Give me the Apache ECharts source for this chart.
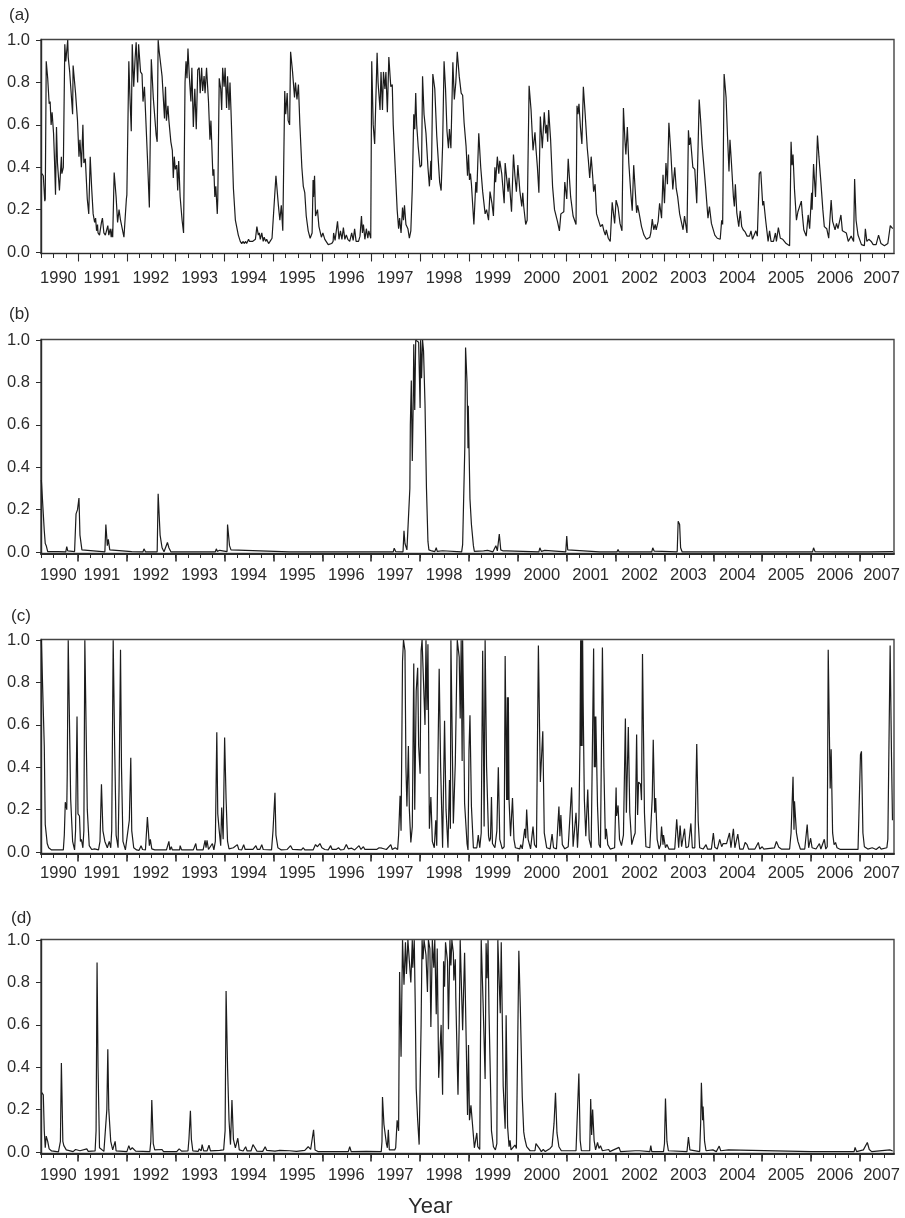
<!DOCTYPE html>
<html>
<head>
<meta charset="utf-8">
<title>Four panels 1990-2007</title>
<script src="https://cdn.jsdelivr.net/npm/echarts@6/dist/echarts.min.js"></script>
<style>
  html, body { margin: 0; padding: 0; background: #fff; }
  #main { width: 905px; height: 1218px; }
</style>
</head>
<body>
<div id="main"></div>
<script>
// each list holds [year, value] at the turning points of the trace
var yearLabels = [1990,1991,1992,1993,1994,1995,1996,1997,1998,1999,2000,2001,2002,2003,2004,2005,2006,2007];
var yearTicks = [1991,1992,1993,1994,1995,1996,1997,1998,1999,2000,2001,2002,2003,2004,2005,2006,2007];
var valueTicks = [0,0.2,0.4,0.6,0.8,1.0];

var panelA = [[1990.26,.37],[1990.29,.36],[1990.32,.24],[1990.33,.25],[1990.35,.90],[1990.38,.82],[1990.41,.70],[1990.43,.71],[1990.45,.60],[1990.47,.66],[1990.50,.56],[1990.52,.43],[1990.54,.27],[1990.56,.59],[1990.58,.42],[1990.62,.29],[1990.66,.45],[1990.67,.37],[1990.70,.40],[1990.73,.98],[1990.75,.90],[1990.79,1.0],[1990.80,.92],[1990.83,.85],[1990.86,.85],[1990.89,.65],[1990.90,.88],[1990.95,.75],[1990.99,.62],[1991.02,.45],[1991.04,.53],[1991.07,.40],[1991.10,.60],[1991.12,.42],[1991.15,.44],[1991.19,.25],[1991.22,.18],[1991.25,.45],[1991.28,.30],[1991.31,.18],[1991.34,.14],[1991.36,.16],[1991.38,.10],[1991.40,.13],[1991.41,.09],[1991.44,.08],[1991.48,.14],[1991.50,.16],[1991.53,.09],[1991.56,.08],[1991.61,.125],[1991.63,.08],[1991.66,.11],[1991.68,.07],[1991.70,.11],[1991.71,.07],[1991.74,.375],[1991.78,.26],[1991.81,.14],[1991.84,.20],[1991.87,.15],[1991.91,.15],[1991.94,.07],[1991.95,.065],[1991.99,.25],[1992.0,.27],[1992.04,.90],[1992.06,.75],[1992.09,.57],[1992.11,.98],[1992.14,.78],[1992.17,.92],[1992.19,.99],[1992.22,.80],[1992.24,.98],[1992.28,.85],[1992.31,.84],[1992.33,.71],[1992.36,.78],[1992.37,.78],[1992.42,.45],[1992.46,.21],[1992.50,.91],[1992.54,.73],[1992.60,.55],[1992.62,.52],[1992.64,1.0],[1992.66,.95],[1992.72,.83],[1992.75,.83],[1992.77,.63],[1992.79,.78],[1992.81,.62],[1992.84,.69],[1992.86,.62],[1992.90,.52],[1992.93,.48],[1992.95,.35],[1992.97,.45],[1992.99,.39],[1993.02,.41],[1993.04,.29],[1993.06,.43],[1993.09,.26],[1993.13,.15],[1993.16,.09],[1993.19,.80],[1993.21,.90],[1993.23,.82],[1993.25,.96],[1993.28,.82],[1993.31,.71],[1993.33,.87],[1993.36,.59],[1993.39,.77],[1993.42,.58],[1993.45,.86],[1993.48,.87],[1993.50,.75],[1993.53,.87],[1993.55,.76],[1993.58,.83],[1993.60,.75],[1993.63,.87],[1993.67,.71],[1993.70,.53],[1993.72,.62],[1993.76,.36],[1993.78,.39],[1993.80,.26],[1993.82,.31],[1993.85,.18],[1993.86,.25],[1993.89,.82],[1993.92,.77],[1993.94,.67],[1993.96,.87],[1993.99,.78],[1994.01,.87],[1994.04,.68],[1994.06,.83],[1994.09,.67],[1994.11,.80],[1994.13,.67],[1994.18,.30],[1994.22,.15],[1994.24,.15],[1994.28,.08],[1994.32,.05],[1994.35,.04],[1994.38,.05],[1994.40,.04],[1994.43,.05],[1994.45,.04],[1994.47,.05],[1994.49,.06],[1994.51,.05],[1994.54,.045],[1994.57,.05],[1994.60,.055],[1994.63,.06],[1994.66,.12],[1994.69,.08],[1994.71,.09],[1994.73,.06],[1994.76,.09],[1994.79,.05],[1994.81,.07],[1994.84,.05],[1994.86,.06],[1994.90,.04],[1994.93,.05],[1994.97,.065],[1994.99,.07],[1995.05,.36],[1995.10,.22],[1995.13,.15],[1995.16,.22],[1995.19,.10],[1995.23,.76],[1995.25,.65],[1995.28,.75],[1995.30,.62],[1995.33,.60],[1995.35,.945],[1995.39,.85],[1995.43,.73],[1995.45,.80],[1995.48,.72],[1995.51,.79],[1995.54,.60],[1995.58,.40],[1995.61,.31],[1995.64,.28],[1995.67,.17],[1995.71,.10],[1995.75,.065],[1995.79,.09],[1995.81,.34],[1995.82,.26],[1995.84,.36],[1995.86,.17],[1995.90,.20],[1995.93,.12],[1995.98,.07],[1996.01,.09],[1996.05,.06],[1996.12,.035],[1996.19,.04],[1996.22,.05],[1996.23,.09],[1996.26,.055],[1996.31,.145],[1996.34,.06],[1996.37,.10],[1996.40,.06],[1996.43,.115],[1996.46,.06],[1996.49,.08],[1996.52,.06],[1996.56,.05],[1996.60,.09],[1996.63,.055],[1996.66,.11],[1996.69,.05],[1996.74,.05],[1996.77,.075],[1996.80,.17],[1996.82,.09],[1996.84,.13],[1996.87,.06],[1996.90,.11],[1996.93,.065],[1996.95,.10],[1996.99,.065],[1997.01,.90],[1997.04,.60],[1997.07,.51],[1997.12,.94],[1997.14,.80],[1997.18,.67],[1997.20,.85],[1997.23,.67],[1997.25,.85],[1997.28,.77],[1997.30,.85],[1997.33,.66],[1997.36,.92],[1997.40,.78],[1997.43,.79],[1997.45,.60],[1997.49,.40],[1997.53,.20],[1997.56,.11],[1997.58,.16],[1997.61,.09],[1997.64,.21],[1997.66,.15],[1997.68,.22],[1997.71,.13],[1997.75,.11],[1997.78,.065],[1997.81,.10],[1997.84,.30],[1997.87,.65],[1997.89,.58],[1997.91,.75],[1997.93,.60],[1997.96,.50],[1998.0,.40],[1998.03,.41],[1998.05,.83],[1998.08,.65],[1998.12,.56],[1998.14,.56],[1998.16,.40],[1998.19,.31],[1998.22,.43],[1998.23,.34],[1998.26,.84],[1998.30,.77],[1998.34,.55],[1998.40,.33],[1998.43,.29],[1998.46,.50],[1998.49,.90],[1998.52,.77],[1998.55,.57],[1998.58,.49],[1998.60,.58],[1998.63,.49],[1998.67,.895],[1998.70,.72],[1998.73,.80],[1998.76,.945],[1998.80,.83],[1998.84,.75],[1998.87,.74],[1998.90,.61],[1998.94,.50],[1998.97,.36],[1998.99,.46],[1999.01,.34],[1999.03,.37],[1999.05,.32],[1999.10,.13],[1999.14,.33],[1999.16,.28],[1999.20,.56],[1999.24,.40],[1999.28,.285],[1999.33,.18],[1999.36,.20],[1999.40,.15],[1999.43,.285],[1999.47,.23],[1999.50,.17],[1999.53,.40],[1999.545,.33],[1999.58,.45],[1999.61,.37],[1999.63,.43],[1999.67,.37],[1999.72,.23],[1999.74,.42],[1999.77,.35],[1999.80,.285],[1999.82,.35],[1999.87,.19],[1999.91,.46],[1999.94,.36],[1999.97,.285],[2000.0,.41],[2000.04,.29],[2000.08,.215],[2000.10,.28],[2000.12,.215],[2000.16,.13],[2000.19,.15],[2000.23,.785],[2000.27,.67],[2000.31,.48],[2000.35,.565],[2000.37,.49],[2000.40,.40],[2000.43,.28],[2000.46,.64],[2000.50,.49],[2000.54,.66],[2000.57,.56],[2000.59,.60],[2000.61,.52],[2000.63,.67],[2000.67,.53],[2000.71,.31],[2000.75,.20],[2000.81,.145],[2000.85,.10],[2000.88,.18],[2000.94,.19],[2000.96,.33],[2001.0,.25],[2001.03,.44],[2001.08,.26],[2001.13,.17],[2001.19,.13],[2001.21,.69],[2001.23,.65],[2001.25,.70],[2001.28,.59],[2001.31,.51],[2001.34,.78],[2001.38,.64],[2001.42,.49],[2001.44,.44],[2001.47,.35],[2001.50,.45],[2001.53,.36],[2001.55,.285],[2001.58,.32],[2001.61,.18],[2001.65,.18],[2001.69,.12],[2001.73,.13],[2001.76,.10],[2001.79,.08],[2001.81,.105],[2001.85,.065],[2001.89,.05],[2001.93,.235],[2001.98,.135],[2002.01,.245],[2002.05,.21],[2002.09,.135],[2002.13,.10],[2002.16,.68],[2002.19,.53],[2002.21,.46],[2002.24,.59],[2002.27,.42],[2002.31,.28],[2002.34,.195],[2002.37,.41],[2002.40,.295],[2002.43,.185],[2002.45,.22],[2002.48,.185],[2002.53,.12],[2002.58,.08],[2002.63,.06],[2002.70,.07],[2002.72,.09],[2002.75,.155],[2002.78,.105],[2002.81,.13],[2002.83,.105],[2002.87,.145],[2002.90,.23],[2002.94,.16],[2002.97,.365],[2003.0,.23],[2003.03,.42],[2003.06,.32],[2003.09,.61],[2003.13,.47],[2003.17,.295],[2003.21,.40],[2003.24,.30],[2003.27,.26],[2003.31,.18],[2003.34,.18],[2003.38,.105],[2003.41,.17],[2003.46,.09],[2003.49,.575],[2003.51,.505],[2003.53,.54],[2003.56,.535],[2003.58,.40],[2003.62,.39],[2003.66,.23],[2003.68,.23],[2003.71,.72],[2003.74,.62],[2003.77,.505],[2003.80,.50],[2003.84,.31],[2003.89,.16],[2003.92,.215],[2003.96,.135],[2004.03,.08],[2004.08,.065],[2004.14,.06],[2004.17,.15],[2004.19,.13],[2004.22,.84],[2004.26,.73],[2004.29,.545],[2004.32,.38],[2004.34,.53],[2004.37,.42],[2004.41,.26],[2004.43,.215],[2004.45,.32],[2004.48,.185],[2004.52,.12],[2004.55,.195],[2004.58,.12],[2004.61,.105],[2004.65,.095],[2004.69,.075],[2004.74,.075],[2004.77,.10],[2004.80,.06],[2004.84,.06],[2004.87,.10],[2004.90,.075],[2004.94,.37],[2004.97,.38],[2005.01,.22],[2005.03,.24],[2005.07,.15],[2005.12,.05],[2005.15,.10],[2005.18,.05],[2005.23,.05],[2005.27,.09],[2005.29,.05],[2005.33,.115],[2005.37,.065],[2005.42,.06],[2005.49,.04],[2005.56,.03],[2005.59,.52],[2005.61,.41],[2005.63,.46],[2005.66,.295],[2005.70,.15],[2005.73,.19],[2005.77,.195],[2005.80,.24],[2005.82,.18],[2005.85,.105],[2005.90,.075],[2005.94,.175],[2005.97,.11],[2006.01,.28],[2006.02,.20],[2006.05,.415],[2006.09,.26],[2006.13,.55],[2006.16,.45],[2006.20,.33],[2006.24,.20],[2006.27,.12],[2006.32,.11],[2006.36,.065],[2006.41,.245],[2006.44,.145],[2006.49,.105],[2006.52,.135],[2006.55,.11],[2006.58,.11],[2006.61,.175],[2006.64,.10],[2006.68,.105],[2006.72,.09],[2006.76,.05],[2006.82,.075],[2006.87,.05],[2006.89,.345],[2006.92,.15],[2006.96,.08],[2007.03,.035],[2007.09,.03],[2007.11,.11],[2007.14,.05],[2007.18,.06],[2007.23,.05],[2007.27,.035],[2007.33,.035],[2007.38,.08],[2007.43,.04],[2007.50,.03],[2007.57,.04],[2007.62,.125],[2007.67,.11]];

var panelB = [[1990.25,.34],[1990.27,.34],[1990.31,.10],[1990.33,.04],[1990.35,.03],[1990.38,.002],[1990.60,.002],[1990.62,.006],[1990.64,.001],[1990.75,.001],[1990.77,.025],[1990.79,.005],[1990.93,.002],[1990.96,.18],[1990.99,.20],[1991.02,.255],[1991.04,.08],[1991.08,.01],[1991.12,.001],[1991.55,.001],[1991.57,.13],[1991.60,.03],[1991.62,.06],[1991.65,.01],[1991.68,.001],[1992.10,.002],[1992.12,.005],[1992.14,.001],[1992.33,.001],[1992.35,.015],[1992.38,.001],[1992.62,.001],[1992.64,.275],[1992.68,.08],[1992.72,.02],[1992.76,.001],[1992.80,.01],[1992.83,.045],[1992.86,.02],[1992.90,.001],[1993.19,.001],[1993.21,.005],[1993.23,.001],[1993.61,.001],[1993.63,.003],[1993.81,.001],[1993.83,.015],[1993.85,.003],[1993.90,.008],[1993.92,.001],[1994.05,.002],[1994.06,.13],[1994.10,.03],[1994.13,.01],[1994.17,.001],[1995.32,.001],[1995.34,.008],[1995.36,.001],[1996.62,.001],[1996.64,.004],[1996.66,.001],[1997.24,.001],[1997.26,.005],[1997.28,.001],[1997.45,.001],[1997.47,.018],[1997.50,.002],[1997.65,.001],[1997.67,.10],[1997.69,.04],[1997.73,.01],[1997.76,.001],[1997.79,.30],[1997.80,.60],[1997.82,.81],[1997.83,.60],[1997.84,.43],[1997.86,.72],[1997.87,.98],[1997.89,.67],[1997.91,1.0],[1997.94,1.0],[1997.97,.99],[1998.0,.68],[1998.01,1.0],[1998.03,.82],[1998.05,1.0],[1998.07,.95],[1998.10,.70],[1998.13,.30],[1998.16,.05],[1998.18,.01],[1998.22,.01],[1998.24,.005],[1998.27,.012],[1998.30,.002],[1998.33,.02],[1998.35,.003],[1998.46,.006],[1998.48,.001],[1998.85,.001],[1998.87,.035],[1998.90,.035],[1998.915,.50],[1998.93,.965],[1998.96,.80],[1998.98,.49],[1998.985,.69],[1999.02,.25],[1999.05,.13],[1999.09,.03],[1999.11,.003],[1999.30,.005],[1999.32,.001],[1999.38,.008],[1999.40,.001],[1999.49,.001],[1999.55,.03],[1999.58,.005],[1999.62,.085],[1999.65,.01],[1999.70,.005],[1999.74,.002],[1999.77,.005],[1999.80,.001],[2000.43,.001],[2000.45,.02],[2000.48,.003],[2000.55,.008],[2000.57,.001],[2000.98,.001],[2001.0,.075],[2001.02,.01],[2001.04,.001],[2001.67,.001],[2001.69,.008],[2001.71,.001],[2002.03,.001],[2002.05,.012],[2002.07,.001],[2002.74,.001],[2002.76,.02],[2002.79,.004],[2002.82,.001],[2003.26,.001],[2003.28,.145],[2003.31,.13],[2003.33,.02],[2003.36,.001],[2003.71,.001],[2003.73,.008],[2003.75,.001],[2004.30,.001],[2004.32,.006],[2004.34,.001],[2004.60,.001],[2004.62,.004],[2004.64,.001],[2005.78,.001],[2005.80,.004],[2005.82,.001],[2006.03,.001],[2006.05,.02],[2006.08,.002],[2006.50,.001],[2007.20,.001],[2007.68,.002]];

var panelC = [[1990.25,1.0],[1990.29,1.0],[1990.31,.50],[1990.33,.13],[1990.37,.04],[1990.40,.02],[1990.46,.01],[1990.56,.01],[1990.59,.015],[1990.63,.01],[1990.67,.015],[1990.70,.01],[1990.72,.08],[1990.74,.235],[1990.77,.20],[1990.78,.37],[1990.80,1.0],[1990.82,1.0],[1990.85,.25],[1990.89,.05],[1990.93,.01],[1990.95,.10],[1990.98,.64],[1991.0,.18],[1991.03,.17],[1991.05,.05],[1991.07,.06],[1991.10,.02],[1991.12,.10],[1991.14,1.0],[1991.16,1.0],[1991.19,.20],[1991.23,.03],[1991.28,.012],[1991.34,.015],[1991.42,.01],[1991.45,.05],[1991.48,.32],[1991.51,.10],[1991.55,.05],[1991.60,.02],[1991.64,.05],[1991.67,.02],[1991.69,.10],[1991.72,1.0],[1991.75,.50],[1991.78,.08],[1991.82,.02],[1991.84,.30],[1991.87,.955],[1991.89,.40],[1991.92,.05],[1991.97,.01],[1992.01,.012],[1992.05,.15],[1992.08,.445],[1992.10,.10],[1992.14,.02],[1992.20,.01],[1992.25,.008],[1992.29,.03],[1992.32,.012],[1992.38,.01],[1992.42,.165],[1992.46,.03],[1992.48,.06],[1992.51,.015],[1992.57,.01],[1992.81,.01],[1992.86,.05],[1992.88,.01],[1992.91,.025],[1992.93,.01],[1993.08,.01],[1993.09,.03],[1993.12,.01],[1993.15,.01],[1993.16,.015],[1993.18,.01],[1993.36,.01],[1993.41,.04],[1993.43,.01],[1993.56,.01],[1993.60,.055],[1993.62,.02],[1993.64,.055],[1993.67,.012],[1993.71,.02],[1993.75,.04],[1993.78,.01],[1993.81,.05],[1993.84,.565],[1993.86,.18],[1993.89,.10],[1993.92,.03],[1993.94,.21],[1993.97,.06],[1994.0,.54],[1994.03,.25],[1994.06,.05],[1994.09,.015],[1994.18,.02],[1994.21,.012],[1994.26,.035],[1994.29,.012],[1994.35,.01],[1994.39,.035],[1994.42,.012],[1994.58,.012],[1994.64,.03],[1994.67,.012],[1994.72,.012],[1994.76,.035],[1994.79,.012],[1994.96,.01],[1994.99,.10],[1995.03,.28],[1995.05,.08],[1995.09,.02],[1995.16,.01],[1995.20,.015],[1995.28,.012],[1995.35,.03],[1995.39,.012],[1995.57,.01],[1995.61,.02],[1995.64,.01],[1995.67,.018],[1995.71,.01],[1995.81,.01],[1995.86,.035],[1995.90,.025],[1995.95,.04],[1995.99,.02],[1996.05,.012],[1996.12,.01],[1996.17,.03],[1996.20,.012],[1996.28,.012],[1996.33,.02],[1996.37,.01],[1996.44,.012],[1996.49,.035],[1996.53,.015],[1996.60,.018],[1996.66,.01],[1996.75,.03],[1996.79,.012],[1996.84,.025],[1996.87,.012],[1997.11,.012],[1997.16,.02],[1997.19,.012],[1997.22,.018],[1997.31,.012],[1997.40,.035],[1997.43,.012],[1997.49,.02],[1997.54,.012],[1997.56,.08],[1997.59,.265],[1997.61,.10],[1997.64,.90],[1997.66,1.0],[1997.69,.95],[1997.71,.40],[1997.73,.215],[1997.76,.50],[1997.78,.20],[1997.81,.045],[1997.84,.12],[1997.87,.89],[1997.89,.20],[1997.92,.76],[1997.95,.87],[1997.97,.50],[1998.0,.37],[1998.02,.95],[1998.04,1.0],[1998.07,1.0],[1998.10,.60],[1998.12,1.0],[1998.14,.67],[1998.16,.98],[1998.19,.11],[1998.22,.26],[1998.25,.05],[1998.29,.02],[1998.32,.15],[1998.34,.03],[1998.39,.865],[1998.42,.40],[1998.46,.02],[1998.50,.62],[1998.53,.20],[1998.57,.02],[1998.60,.34],[1998.62,.11],[1998.63,1.0],[1998.65,1.0],[1998.68,.135],[1998.72,.42],[1998.76,1.0],[1998.80,.92],[1998.82,.63],[1998.84,1.0],[1998.86,.43],[1998.87,1.0],[1998.89,.67],[1998.91,.23],[1998.93,.23],[1998.96,.04],[1998.98,.01],[1999.0,.48],[1999.02,.645],[1999.05,.215],[1999.09,.02],[1999.16,.02],[1999.19,.08],[1999.22,.02],[1999.25,.09],[1999.28,.95],[1999.31,.12],[1999.33,1.0],[1999.36,.40],[1999.40,.075],[1999.42,.05],[1999.44,.065],[1999.46,.26],[1999.48,.04],[1999.53,.02],[1999.57,.10],[1999.60,.40],[1999.63,.06],[1999.68,.015],[1999.72,.025],[1999.74,.925],[1999.77,.245],[1999.785,.73],[1999.795,.245],[1999.805,.73],[1999.82,.245],[1999.85,.075],[1999.89,.255],[1999.92,.06],[1999.95,.02],[2000.04,.015],[2000.06,.035],[2000.09,.015],[2000.14,.11],[2000.16,.065],[2000.18,.20],[2000.21,.06],[2000.26,.015],[2000.31,.12],[2000.34,.035],[2000.38,.02],[2000.42,.975],[2000.46,.33],[2000.51,.57],[2000.54,.09],[2000.59,.02],[2000.66,.015],[2000.70,.085],[2000.73,.02],[2000.79,.015],[2000.84,.215],[2000.86,.075],[2000.88,.175],[2000.91,.035],[2000.96,.015],[2001.03,.025],[2001.06,.02],[2001.10,.305],[2001.13,.025],[2001.16,.02],[2001.19,.185],[2001.22,.02],[2001.25,.16],[2001.27,.50],[2001.285,1.0],[2001.295,.50],[2001.305,1.0],[2001.315,.50],[2001.325,1.0],[2001.335,.72],[2001.36,.25],[2001.39,.075],[2001.43,.295],[2001.46,.06],[2001.50,.02],[2001.55,.96],[2001.565,.40],[2001.575,.64],[2001.585,.40],[2001.595,.64],[2001.63,.215],[2001.66,.035],[2001.69,.02],[2001.73,.965],[2001.76,.40],[2001.79,.06],[2001.81,.11],[2001.84,.035],[2001.89,.014],[2001.98,.02],[2002.01,.305],[2002.02,.17],[2002.05,.22],[2002.08,.06],[2002.12,.03],[2002.16,.08],[2002.20,.63],[2002.22,.185],[2002.26,.59],[2002.29,.185],[2002.33,.035],[2002.37,.07],[2002.40,.09],[2002.43,.555],[2002.45,.175],[2002.47,.33],[2002.51,.32],[2002.53,.245],[2002.55,.935],[2002.59,.185],[2002.62,.025],[2002.70,.02],[2002.73,.02],[2002.75,.26],[2002.77,.53],[2002.80,.185],[2002.82,.255],[2002.85,.06],[2002.89,.014],[2002.92,.035],[2002.94,.12],[2002.97,.035],[2002.98,.08],[2003.02,.02],[2003.05,.035],[2003.09,.014],[2003.21,.014],[2003.25,.155],[2003.29,.02],[2003.32,.125],[2003.35,.025],[2003.38,.02],[2003.41,.11],[2003.44,.02],[2003.49,.025],[2003.54,.135],[2003.57,.02],[2003.62,.02],[2003.66,.51],[2003.69,.145],[2003.72,.02],[2003.79,.014],[2003.85,.035],[2003.88,.014],[2003.96,.014],[2004.0,.09],[2004.03,.022],[2004.08,.014],[2004.13,.06],[2004.17,.025],[2004.20,.04],[2004.24,.035],[2004.27,.04],[2004.30,.04],[2004.33,.09],[2004.36,.02],[2004.41,.11],[2004.44,.02],[2004.50,.085],[2004.54,.014],[2004.61,.014],[2004.65,.045],[2004.69,.035],[2004.72,.014],[2004.85,.014],[2004.92,.045],[2004.95,.014],[2005.0,.025],[2005.03,.014],[2005.25,.02],[2005.29,.05],[2005.34,.022],[2005.39,.014],[2005.42,.022],[2005.56,.014],[2005.59,.09],[2005.63,.355],[2005.65,.105],[2005.66,.24],[2005.70,.09],[2005.73,.05],[2005.78,.014],[2005.87,.014],[2005.92,.13],[2005.95,.02],[2005.99,.065],[2006.02,.02],[2006.10,.014],[2006.17,.04],[2006.20,.014],[2006.27,.06],[2006.30,.014],[2006.33,.025],[2006.35,.955],[2006.39,.30],[2006.41,.485],[2006.44,.09],[2006.47,.035],[2006.50,.045],[2006.53,.02],[2006.60,.012],[2006.96,.012],[2006.98,.02],[2007.01,.46],[2007.03,.475],[2007.06,.09],[2007.09,.025],[2007.16,.014],[2007.25,.02],[2007.33,.012],[2007.40,.025],[2007.43,.014],[2007.55,.02],[2007.57,.06],[2007.617,.975],[2007.645,.45],[2007.665,.15]];

var panelD = [[1990.26,.28],[1990.29,.27],[1990.31,.10],[1990.33,.02],[1990.35,.075],[1990.38,.05],[1990.41,.015],[1990.46,.005],[1990.60,.001],[1990.62,.005],[1990.64,.05],[1990.66,.42],[1990.69,.05],[1990.71,.03],[1990.73,.035],[1990.76,.01],[1990.80,.004],[1990.90,.002],[1990.95,.012],[1990.98,.004],[1991.04,.006],[1991.08,.005],[1991.18,.015],[1991.21,.003],[1991.35,.005],[1991.37,.10],[1991.39,.895],[1991.41,.40],[1991.44,.02],[1991.48,.012],[1991.53,.003],[1991.57,.005],[1991.59,.20],[1991.61,.485],[1991.63,.20],[1991.67,.05],[1991.71,.01],[1991.73,.005],[1991.76,.05],[1991.78,.005],[1992.0,.002],[1992.04,.03],[1992.07,.01],[1992.11,.02],[1992.14,.025],[1992.18,.004],[1992.47,.002],[1992.49,.05],[1992.51,.245],[1992.54,.04],[1992.57,.01],[1992.72,.012],[1992.75,.002],[1993.02,.002],[1993.07,.015],[1993.12,.004],[1993.25,.005],[1993.27,.06],[1993.30,.195],[1993.32,.06],[1993.35,.005],[1993.46,.003],[1993.48,.015],[1993.52,.005],[1993.54,.035],[1993.57,.005],[1993.64,.005],[1993.68,.032],[1993.71,.005],[1993.90,.008],[1993.93,.004],[1993.98,.01],[1994.01,.10],[1994.03,.76],[1994.06,.40],[1994.09,.15],[1994.12,.035],[1994.15,.245],[1994.18,.06],[1994.22,.02],[1994.24,.015],[1994.27,.065],[1994.30,.01],[1994.38,.005],[1994.43,.025],[1994.46,.005],[1994.54,.005],[1994.58,.035],[1994.62,.02],[1994.66,.004],[1994.78,.003],[1994.83,.025],[1994.86,.008],[1995.03,.004],[1995.13,.008],[1995.17,.003],[1995.33,.006],[1995.47,.003],[1995.64,.008],[1995.71,.025],[1995.76,.012],[1995.80,.005],[1995.82,.105],[1995.85,.01],[1995.91,.002],[1996.53,.002],[1996.56,.025],[1996.59,.002],[1996.90,.003],[1997.205,.002],[1997.22,.05],[1997.23,.26],[1997.26,.13],[1997.28,.125],[1997.31,.04],[1997.33,.02],[1997.35,.105],[1997.37,.01],[1997.41,.002],[1997.48,.01],[1997.50,.02],[1997.53,.15],[1997.56,.10],[1997.58,.85],[1997.61,.45],[1997.64,1.0],[1997.67,.79],[1997.70,.99],[1997.72,.84],[1997.75,1.0],[1997.77,1.0],[1997.81,.80],[1997.84,1.0],[1997.85,.87],[1997.88,1.0],[1997.90,.70],[1997.92,.30],[1997.95,.15],[1997.98,.035],[1998.02,.60],[1998.04,1.0],[1998.06,.91],[1998.08,1.0],[1998.12,.93],[1998.15,.755],[1998.17,1.0],[1998.20,.96],[1998.22,.59],[1998.25,1.0],[1998.28,.87],[1998.30,1.0],[1998.33,.65],[1998.35,.96],[1998.38,.35],[1998.43,.60],[1998.46,.27],[1998.48,.90],[1998.50,.78],[1998.52,.99],[1998.56,.90],[1998.58,.58],[1998.61,1.0],[1998.63,.88],[1998.65,1.0],[1998.68,.94],[1998.69,.81],[1998.72,.91],[1998.73,.73],[1998.775,.27],[1998.80,.61],[1998.82,1.0],[1998.84,1.0],[1998.87,.575],[1998.89,.76],[1998.91,.94],[1998.93,.685],[1998.97,.175],[1998.99,.505],[1999.01,.15],[1999.04,.22],[1999.07,.135],[1999.11,.02],[1999.14,.025],[1999.16,.09],[1999.18,.025],[1999.22,.012],[1999.25,1.0],[1999.27,1.0],[1999.29,.69],[1999.33,.345],[1999.35,.985],[1999.37,.82],[1999.39,1.0],[1999.41,.655],[1999.46,.10],[1999.50,.025],[1999.54,.01],[1999.57,.04],[1999.59,1.0],[1999.62,1.0],[1999.64,.655],[1999.66,.99],[1999.70,.31],[1999.74,.11],[1999.76,.645],[1999.79,.12],[1999.82,.025],[1999.84,.055],[1999.86,.01],[1999.90,.017],[1999.94,.033],[1999.97,.017],[1999.99,.025],[2000.02,.95],[2000.05,.685],[2000.09,.26],[2000.12,.095],[2000.14,.065],[2000.18,.025],[2000.25,.006],[2000.35,.006],[2000.37,.04],[2000.41,.033],[2000.44,.017],[2000.48,.002],[2000.52,.012],[2000.56,.002],[2000.66,.017],[2000.70,.028],[2000.72,.033],[2000.74,.135],[2000.77,.28],[2000.80,.09],[2000.82,.095],[2000.84,.025],[2000.89,.006],[2001.0,.006],[2001.19,.006],[2001.21,.135],[2001.248,.37],[2001.275,.055],[2001.30,.006],[2001.47,.006],[2001.49,.25],[2001.51,.08],[2001.53,.20],[2001.56,.055],[2001.59,.01],[2001.63,.045],[2001.66,.017],[2001.69,.03],[2001.73,.006],[2001.86,.012],[2001.88,.002],[2002.07,.022],[2002.10,.002],[2002.40,.006],[2002.42,.002],[2002.49,.006],[2002.53,.002],[2002.70,.002],[2002.72,.03],[2002.74,.002],[2002.98,.002],[2003.0,.04],[2003.02,.253],[2003.05,.05],[2003.08,.006],[2003.46,.002],[2003.49,.07],[2003.52,.01],[2003.72,.002],[2003.74,.135],[2003.755,.327],[2003.78,.15],[2003.79,.215],[2003.82,.05],[2003.85,.006],[2003.99,.01],[2004.06,.002],[2004.12,.028],[2004.15,.006],[2004.31,.01],[2004.34,.002],[2006.0,.002],[2006.88,.002],[2006.90,.022],[2006.93,.002],[2007.07,.01],[2007.15,.045],[2007.19,.012],[2007.24,.002],[2007.61,.01],[2007.64,.012],[2007.67,.005]];

var series = [panelA, panelB, panelC, panelD];
var panelNames = ['(a)', '(b)', '(c)', '(d)'];
var xAxisName = 'Year';

var font = '"Liberation Sans", Arial, sans-serif';
var inkColor = '#2b2b2b';

var gridTops = [39.5, 339.5, 639.5, 939.5];
var gridHeight = 214;
var titleSpots = [[9, 7], [9, 306], [11, 608], [11, 910]];
var labelGaps = [16, 13, 11, 13.5];
var bottomWidths = [1.2, 2, 2, 2];

function labelSpot(year) {
  if (year === 1990) return 1990.60;
  if (year === 2007) return 2007.44;
  return year + 0.49;
}

function quarterTicks() {
  var out = [];
  for (var i = 0; i < yearLabels.length; i++) {
    [0, 0.25, 0.5, 0.75].forEach(function (q) {
      var t = yearLabels[i] + q;
      if (t >= 1990.25 && t <= 2007.69) out.push(t);
    });
  }
  return out;
}

var chart = echarts.init(document.getElementById('main'), null, { renderer: 'canvas' });

var grids = [], xAxes = [], yAxes = [], lines = [], titles = [];

series.forEach(function (data, i) {
  grids.push({
    left: 41, right: 11, top: gridTops[i], height: gridHeight,
    show: true, borderColor: '#444', borderWidth: 1.4, backgroundColor: 'transparent'
  });
  // years: long ticks and labels
  xAxes.push({
    type: 'value', gridIndex: i, min: 1990.243, max: 2007.696, position: 'bottom',
    splitLine: { show: false },
    axisLine: { show: true, onZero: false, lineStyle: { color: inkColor, width: bottomWidths[i] } },
    axisTick: { show: true, length: 8, customValues: yearTicks, lineStyle: { color: inkColor, width: bottomWidths[i] === 2 ? 1.6 : 1.1 } },
    axisLabel: {
      show: true, margin: labelGaps[i], fontSize: 16.5, fontFamily: font, color: inkColor,
      customValues: yearLabels.map(labelSpot),
      formatter: function (v) { return String(Math.floor(v)); }
    }
  });
  // quarters: short ticks only
  xAxes.push({
    type: 'value', gridIndex: i, min: 1990.243, max: 2007.696, position: 'bottom',
    splitLine: { show: false }, axisLine: { show: false, onZero: false }, axisLabel: { show: false },
    axisTick: { show: true, length: 4.5, customValues: quarterTicks(), lineStyle: { color: inkColor, width: 1 } }
  });
  yAxes.push({
    type: 'value', gridIndex: i, min: -0.007, max: 1.003,
    splitLine: { show: false },
    axisLine: { show: true, onZero: false, lineStyle: { color: inkColor, width: 1.4 } },
    axisTick: { show: true, length: 5, customValues: valueTicks, lineStyle: { color: inkColor, width: 1 } },
    axisLabel: {
      show: true, margin: 11, fontSize: 16.5, fontFamily: font, color: inkColor,
      padding: [0, 0, 3, 0],
      customValues: valueTicks,
      formatter: function (v) { return v.toFixed(1); }
    }
  });
  lines.push({
    type: 'line', xAxisIndex: i * 2, yAxisIndex: i, data: data,
    showSymbol: false, symbol: 'none', sampling: 'none', smooth: false,
    lineStyle: { color: '#1c1c1c', width: 1.2 }, z: 3
  });
  titles.push({
    text: panelNames[i], left: titleSpots[i][0], top: titleSpots[i][1], padding: 0,
    textStyle: { fontSize: 17, fontWeight: 'normal', fontFamily: font, color: inkColor }
  });
});

titles.push({
  text: xAxisName, left: 408, top: 1196, padding: 0,
  textStyle: { fontSize: 22, fontWeight: 'normal', fontFamily: font, color: inkColor }
});

chart.setOption({
  backgroundColor: '#fff',
  animation: false,
  title: titles,
  grid: grids,
  xAxis: xAxes,
  yAxis: yAxes,
  series: lines
});
</script>
</body>
</html>
